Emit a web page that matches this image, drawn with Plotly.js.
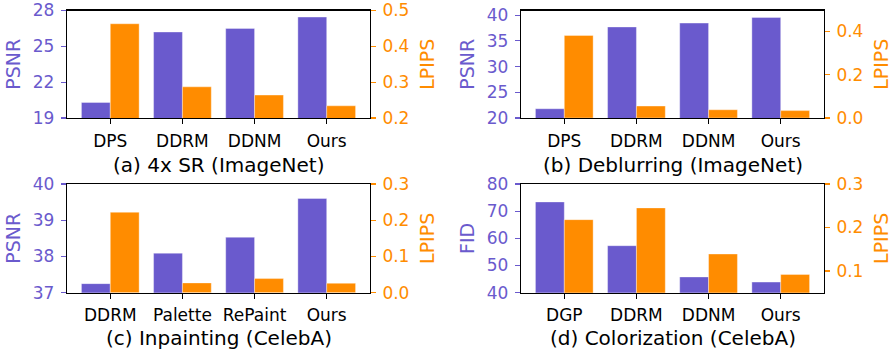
<!DOCTYPE html>
<html>
<head>
<meta charset="utf-8">
<script src="https://cdn.plot.ly/plotly-3.0.1.min.js"></script>
<style>
  html, body { margin: 0; padding: 0; background: #fff; }
  #chart { width: 896px; height: 353px; }
</style>
</head>
<body>
<div id="chart"></div>
<script>
// values
const catsA = ["DPS", "DDRM", "DDNM", "Ours"];
const psnrA = [20.3, 26.2, 26.5, 27.45];
const lpipsA = [0.463, 0.287, 0.264, 0.234];

const catsB = ["DPS", "DDRM", "DDNM", "Ours"];
const psnrB = [21.8, 37.7, 38.45, 39.55];
const lpipsB = [0.38, 0.055, 0.038, 0.034];

const catsC = ["DDRM", "Palette", "RePaint", "Ours"];
const psnrC = [37.25, 38.09, 38.53, 39.6];
const lpipsC = [0.222, 0.027, 0.039, 0.026];

const catsD = ["DGP", "DDRM", "DDNM", "Ours"];
const fidD = [73.4, 57.3, 45.8, 43.9];
const lpipsD = [0.218, 0.245, 0.139, 0.092];

const captions = ["(a) 4x SR (ImageNet)", "(b) Deblurring (ImageNet)", "(c) Inpainting (CelebA)", "(d) Colorization (CelebA)"];

const purple = "#6a5acd";
const orange = "#ff8c00";
const font = "DejaVu Sans, sans-serif";

// subplot setup: [cats, left values, right values, left title, x axis id, y left id, y right id]
const panels = [
  [catsA, psnrA, lpipsA, "PSNR", "x", "y", "y2"],
  [catsB, psnrB, lpipsB, "PSNR", "x2", "y3", "y4"],
  [catsC, psnrC, lpipsC, "PSNR", "x3", "y5", "y6"],
  [catsD, fidD, lpipsD, "FID", "x4", "y7", "y8"],
];

let traces = [];
panels.forEach(p => {
  traces.push({
    type: "bar", x: p[0], y: p[1], xaxis: p[4], yaxis: p[5],
    offset: -0.4, width: 0.4,
    marker: { color: purple, line: { color: "rgba(255,255,255,0.45)", width: 0.8 } },
  });
  traces.push({
    type: "bar", x: p[0], y: p[2], xaxis: p[4], yaxis: p[6],
    offset: 0, width: 0.4,
    marker: { color: orange, line: { color: "rgba(255,255,255,0.45)", width: 0.8 } },
  });
});

const W = 896, H = 353;
const colX = [[67, 370], [521, 824]];
const rowY = [[10.5, 118], [184, 292.7]];
const capY = [165, 338];
const xd = c => [colX[c][0] / W, colX[c][1] / W];
const yd = r => [1 - rowY[r][1] / H, 1 - rowY[r][0] / H];

function xAxis(c, r, anchor) {
  return {
    domain: xd(c), anchor: anchor, type: "category", range: [-0.6, 3.6],
    showline: true, mirror: true, linecolor: "black", linewidth: 1.3,
    ticks: "outside", ticklen: 5, tickcolor: "black", tickwidth: 1.2,
    ticklabelstandoff: 2,
    tickfont: { family: font, size: 17, color: "black" },
    showgrid: false, zeroline: false, fixedrange: true,
  };
}
function yLeft(r, anchor, range, tickvals, title) {
  return {
    domain: yd(r), anchor: anchor, range: range, tickvals: tickvals,
    showline: true, mirror: true, linecolor: "black", linewidth: 1.3,
    ticks: "outside", ticklen: 5, tickcolor: purple, tickwidth: 1.2,
    ticklabelstandoff: 3,
    tickfont: { family: font, size: 17, color: purple },
    title: { text: title, font: { family: font, size: 19, color: purple }, standoff: 7 },
    showgrid: false, zeroline: false,
  };
}
function yRight(overlay, anchor, range, tickvals) {
  return {
    overlaying: overlay, anchor: anchor, side: "right", range: range, tickvals: tickvals,
    tickformat: ".1f",
    ticks: "outside", ticklen: 5, tickcolor: orange, tickwidth: 1.2,
    ticklabelstandoff: 3,
    tickfont: { family: font, size: 17, color: orange },
    title: { text: "LPIPS", font: { family: font, size: 19, color: orange }, standoff: 12 },
    showgrid: false, zeroline: false, showline: false,
  };
}

const layout = {
  width: W, height: H,
  margin: { l: 0, r: 0, t: 0, b: 0 },
  paper_bgcolor: "white", plot_bgcolor: "white",
  showlegend: false,
  font: { family: font },
  xaxis: xAxis(0, 0, "y"),
  yaxis: yLeft(0, "x", [19, 28], [19, 22, 25, 28], "PSNR"),
  yaxis2: yRight("y", "x", [0.2, 0.5], [0.2, 0.3, 0.4, 0.5]),
  xaxis2: xAxis(1, 0, "y3"),
  yaxis3: yLeft(0, "x2", [20, 40.9], [20, 25, 30, 35, 40], "PSNR"),
  yaxis4: yRight("y3", "x2", [0, 0.495], [0, 0.2, 0.4]),
  xaxis3: xAxis(0, 1, "y5"),
  yaxis5: yLeft(1, "x3", [37, 40], [37, 38, 39, 40], "PSNR"),
  yaxis6: yRight("y5", "x3", [0, 0.3], [0, 0.1, 0.2, 0.3]),
  xaxis4: xAxis(1, 1, "y7"),
  yaxis7: yLeft(1, "x4", [40, 80], [40, 50, 60, 70, 80], "FID"),
  yaxis8: yRight("y7", "x4", [0.05, 0.3], [0.1, 0.2, 0.3]),
  annotations: captions.map((t, i) => {
    const c = i % 2, r = Math.floor(i / 2);
    return {
      text: t, xref: "paper", yref: "paper",
      x: (colX[c][0] + colX[c][1]) / 2 / W, y: 1 - capY[r] / H,
      xanchor: "center", yanchor: "middle", showarrow: false,
      font: { family: font, size: 20, color: "black" },
    };
  }),
};

Plotly.newPlot("chart", traces, layout, { displayModeBar: false, staticPlot: true });
</script>
</body>
</html>
